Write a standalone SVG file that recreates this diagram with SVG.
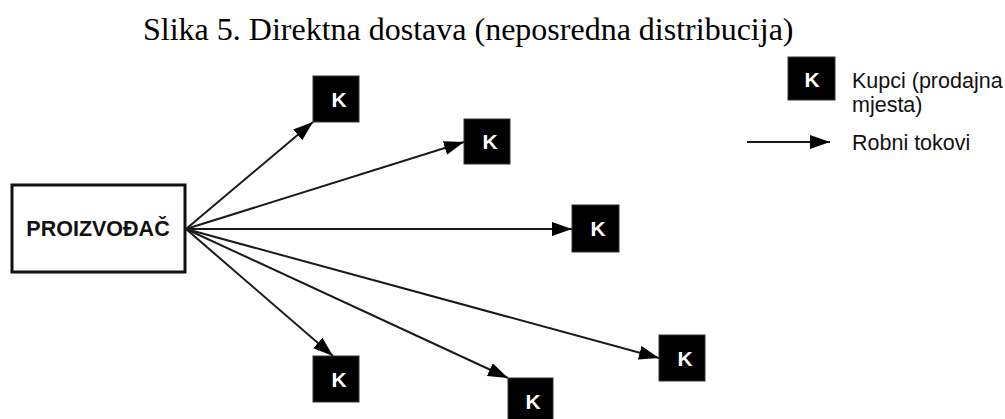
<svg xmlns="http://www.w3.org/2000/svg" width="1005" height="419" viewBox="0 0 1005 419">
<style>
.k rect{fill:#000;stroke:#333;stroke-width:1}
.k text{font-family:"Liberation Sans",Arial,sans-serif;font-weight:bold;font-size:21px;fill:#fff;text-anchor:middle}
.lbl{font-family:"Liberation Sans",Arial,sans-serif;font-size:21.5px;fill:#111}
.conn line{stroke:#1a1a1a;stroke-width:2;marker-end:url(#ah)}
</style>
<defs>
<marker id="ah" markerUnits="userSpaceOnUse" markerWidth="22" markerHeight="16" refX="20" refY="7" orient="auto" viewBox="0 0 22 16">
<path d="M0,0 L20,7 L0,14 Z" fill="#000"/>
</marker>
</defs>
<rect width="1005" height="419" fill="#fff"/>
<text x="143" y="40" font-family="Liberation Serif,'Times New Roman',serif" font-size="32" fill="#000">Slika 5. Direktna dostava (neposredna distribucija)</text>
<g id="proizvodac">
<rect x="12" y="185" width="173" height="87" fill="#fff" stroke="#111" stroke-width="3"/>
<text x="98" y="236" class="lbl" font-weight="bold" text-anchor="middle">PROIZVOĐAČ</text>
</g>
<g class="conn" id="connectors">
<line x1="186" y1="229" x2="313" y2="122"/>
<line x1="186" y1="229" x2="464" y2="142"/>
<line x1="186" y1="229" x2="572" y2="229"/>
<line x1="186" y1="229" x2="333" y2="356"/>
<line x1="186" y1="229" x2="508" y2="378"/>
<line x1="186" y1="229" x2="659" y2="358"/>
</g>
<g id="k1" class="k"><rect x="313" y="76" width="46" height="46"/><text x="339" y="107">K</text></g>
<g id="k2" class="k"><rect x="464" y="119" width="46" height="45"/><text x="490" y="149">K</text></g>
<g id="k3" class="k"><rect x="572" y="205" width="47" height="47"/><text x="598" y="236">K</text></g>
<g id="k4" class="k"><rect x="313" y="356" width="46" height="46"/><text x="339" y="387">K</text></g>
<g id="k5" class="k"><rect x="508" y="378" width="45" height="46"/><text x="533" y="409">K</text></g>
<g id="k6" class="k"><rect x="659" y="335" width="46" height="46"/><text x="685" y="366">K</text></g>
<g id="legend">
<g class="k"><rect x="788" y="57" width="47" height="43"/><text x="812" y="87">K</text></g>
<text x="852" y="88" class="lbl">Kupci (prodajna</text>
<text x="852" y="112" class="lbl">mjesta)</text>
<line x1="747" y1="142" x2="830" y2="142" stroke="#1a1a1a" stroke-width="2" marker-end="url(#ah)"/>
<text x="852" y="150" class="lbl">Robni tokovi</text>
</g>
</svg>
